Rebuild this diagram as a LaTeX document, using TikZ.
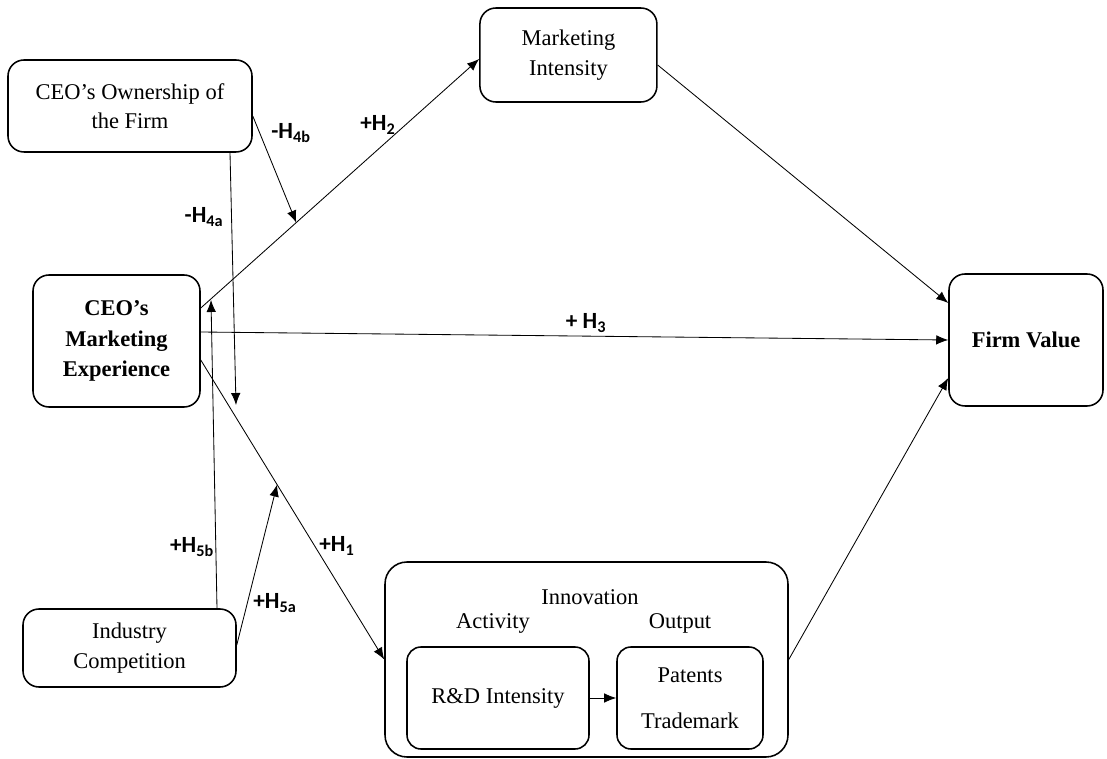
\documentclass[tikz,border=0pt]{standalone}
\usepackage{fontspec}
\setmainfont{Liberation Serif}
\newfontfamily\labelfont{Carlito}
\usetikzlibrary{arrows.meta, positioning}

\newcommand{\hyp}[2]{{\labelfont\bfseries #1H\textsubscript{#2}}}

\begin{document}
\begin{tikzpicture}[
    box/.style={draw, line width=1.1pt, rounded corners=0.4cm, align=center, inner sep=0pt, font=\fontsize{16}{21}\selectfont},
    link/.style={line width=0.6pt, -{Latex[length=3mm, width=2.4mm]}},
    hyplabel/.style={font=\fontsize{16.5}{19}\selectfont},
    plain/.style={font=\fontsize{16}{21}\selectfont}
]
    \useasboundingbox (0,0) rectangle (27.675,-18.975);

    % boxes
    \node[box, minimum width=6.1cm, minimum height=2.3cm] (own) at (3.25,-2.65) {CEO's Ownership of\\the Firm};
    \node[box, minimum width=4.425cm, minimum height=2.35cm] (mkt) at (14.21,-1.375) {Marketing\\Intensity};
    \node[box, minimum width=4.175cm, minimum height=3.3cm, font=\fontsize{16}{21.5}\selectfont\bfseries] (exp) at (2.9125,-8.525) {CEO's\\Marketing\\Experience};
    \node[box, minimum width=3.85cm, minimum height=3.3cm, font=\fontsize{16}{21}\selectfont\bfseries] (fv) at (25.65,-8.5) {Firm Value};
    \node[box, minimum width=5.325cm, minimum height=1.95cm] (ind) at (3.2375,-16.2) {Industry\\Competition};

    % innovation block
    \node[box, rounded corners=0.55cm, minimum width=10.075cm, minimum height=4.875cm] (inno) at (14.6625,-16.4875) {};
    \node[plain] (innotitle) at (14.75,-14.925) {Innovation};
    \node[plain] (act) at (12.325,-15.575) {Activity};
    \node[plain] (outp) at (17.0,-15.575) {Output};
    \node[box, rounded corners=0.35cm, minimum width=4.55cm, minimum height=2.55cm] (rd) at (12.45,-17.45) {R\&D Intensity};
    \node[box, rounded corners=0.35cm, minimum width=3.65cm, minimum height=2.55cm] (pat) at (17.25,-17.45) {Patents\\[12pt]Trademark};

    % hypotheses
    \draw[link] ([yshift=0.825cm]exp.east) -- coordinate[pos=0.343] (mid2) ([yshift=-0.1cm]mkt.west);
    \draw[link] ([yshift=0.225cm]exp.east) -- (fv.west);
    \draw[link] ([yshift=-0.475cm]exp.east) -- coordinate[pos=0.416] (mid1) (inno.west);
    \draw[link] ([yshift=-0.25cm]mkt.east) -- ([yshift=0.925cm]fv.west);
    \draw[link] (inno.east) -- ([yshift=-0.95cm]fv.west);
    \draw[link] (rd) -- (pat);

    % moderators
    \coordinate (tip4a) at (5.9,-10.125);
    \coordinate (tip5b) at (5.275,-7.5);
    \draw[link] ([yshift=-0.25cm]own.east) -- (mid2);
    \draw[link] ([xshift=2.5cm]own.south) -- (tip4a);
    \draw[link] ([xshift=2.1875cm]ind.north) -- (tip5b);
    \draw[link] ([yshift=0.075cm]ind.east) -- (mid1);

    \node[hyplabel] (h2) at (9.45,-3.125) {\hyp{+}{2}};
    \node[hyplabel] (h4b) at (7.275,-3.325) {\hyp{-}{4b}};
    \node[hyplabel] (h4a) at (5.1,-5.425) {\hyp{-}{4a}};
    \node[hyplabel] (h3) at (14.65,-8.075) {\hyp{+ }{3}};
    \node[hyplabel] (h5b) at (4.8,-13.675) {\hyp{+}{5b}};
    \node[hyplabel] (h1) at (8.425,-13.65) {\hyp{+}{1}};
    \node[hyplabel] (h5a) at (6.875,-15.075) {\hyp{+}{5a}};
\end{tikzpicture}
\end{document}
